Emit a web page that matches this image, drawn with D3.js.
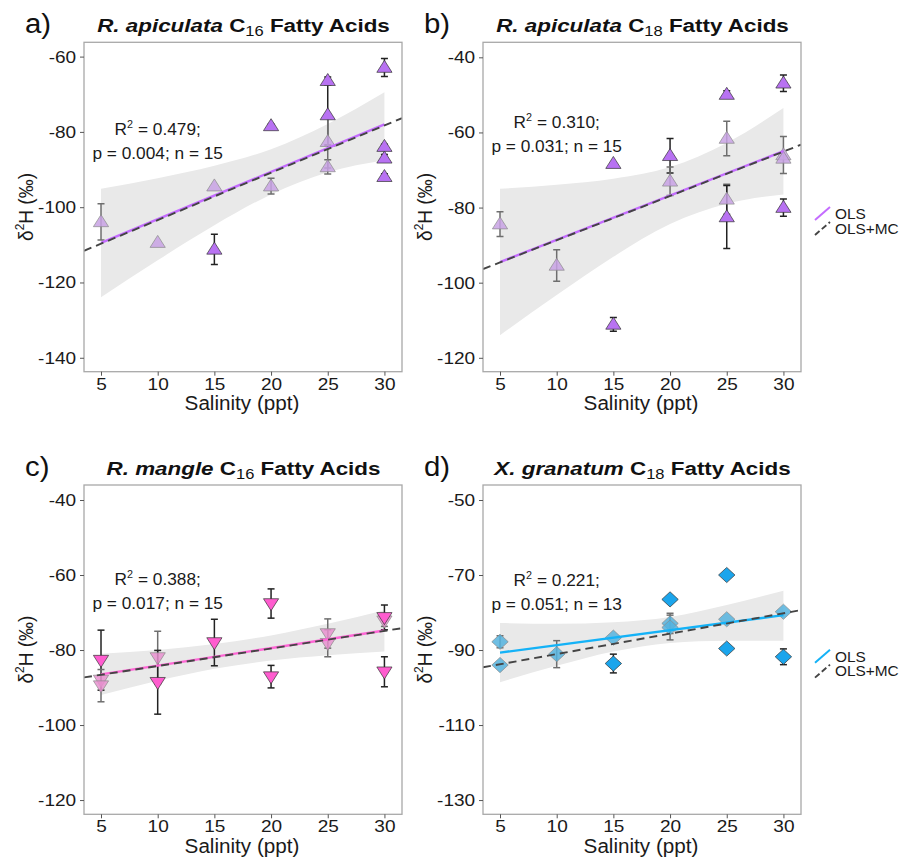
<!DOCTYPE html>
<html>
<head>
<meta charset="utf-8">
<script src="https://cdnjs.cloudflare.com/ajax/libs/d3/7.8.5/d3.min.js"></script>
<style>
  body { margin: 0; background: #fff; }
  svg { display: block; font-family: "Liberation Sans", Arial, sans-serif; }
</style>
</head>
<body>
<svg id="chart" width="901" height="857"></svg>
<script>
// salinity axis shared by all four panels
const salinityTicks = [5, 10, 15, 20, 25, 30]
const salinityDomain = [3.5, 31.55]

// a) R. apiculata C16
const aSal = [5, 10, 15, 15, 20, 20, 25, 25, 25, 25, 30, 30, 30, 30]
const aD2H = [-103.9, -109.4, -94.4, -111.2, -78.4, -94.4, -66.4, -75.5, -82.6, -89.3, -62.9, -83.9, -87.0, -91.9]
const aErr = [4.8, 0, 0, 4.0, 0.4, 2.1, 1.0, 8.0, 7.0, 1.9, 2.4, 0.6, 1.0, 0.8]
const aLight = [1, 1, 1, 0, 0, 1, 0, 0, 1, 1, 0, 0, 0, 0]
const aOls = [-109.5, -78.0]
const aMc = [-109.7, -78.3]
const aBandHi = [-95.1, -92.3, -89.0, -84.6, -77.9, -69.5]
const aBandLo = [-123.9, -114.1, -104.8, -96.6, -90.7, -87.5]
const aYTicks = [-140, -120, -100, -80, -60]
const aYDomain = [-143.7, -56.2]
const aStats = ['0.479', '0.004', '15']

// b) R. apiculata C18
const bSal = [5, 10, 15, 15, 20, 20, 25, 25, 25, 25, 30, 30, 30, 30]
const bD2H = [-84.4, -95.4, -68.3, -111.1, -66.2, -73.0, -49.9, -61.6, -77.8, -82.5, -46.9, -66.0, -66.9, -80.0]
const bErr = [3.3, 4.2, 0, 1.8, 4.6, 3.8, 1.0, 4.6, 4.0, 8.4, 2.2, 4.9, 0, 2.3]
const bLight = [1, 1, 0, 0, 0, 1, 0, 1, 1, 0, 0, 1, 1, 0]
const bOls = [-94.5, -65.0]
const bMc = [-94.6, -65.1]
const bBandHi = [-75.0, -73.9, -72.3, -69.2, -62.8, -53.5]
const bBandLo = [-114.0, -103.3, -93.1, -84.4, -79.0, -76.5]
const bYTicks = [-120, -100, -80, -60, -40]
const bYDomain = [-123.7, -36.0]
const bStats = ['0.310', '0.031', '15']

// c) R. mangle C16
const cSal = [5, 5, 5, 10, 10, 15, 20, 20, 25, 25, 30, 30, 30]
const cD2H = [-82.7, -88.0, -89.5, -82.0, -88.6, -78.0, -67.6, -87.1, -75.6, -78.2, -71.3, -72.2, -85.8]
const cErr = [8.0, 0, 4.3, 7.0, 8.5, 6.2, 3.9, 3.0, 3.9, 3.6, 3.3, 1.5, 4.0]
const cLight = [0, 1, 1, 1, 0, 0, 0, 0, 1, 1, 0, 1, 0]
const cOls = [-86.5, -74.8]
const cMc = [-86.6, -74.9]
const cBandHi = [-81.0, -80.0, -78.4, -76.1, -73.0, -69.4]
const cBandLo = [-92.0, -88.2, -85.0, -82.8, -81.4, -80.4]
const cYTicks = [-120, -100, -80, -60, -40]
const cYDomain = [-123.8, -36.0]
const cStats = ['0.388', '0.017', '15']

// d) X. granatum C18
const dSal = [5, 5, 10, 15, 15, 20, 20, 20, 25, 25, 25, 30, 30]
const dD2H = [-87.8, -94.0, -91.1, -86.7, -93.6, -76.5, -82.9, -84.0, -70.0, -81.8, -89.6, -79.8, -91.8]
const dErr = [1.6, 0, 3.6, 0, 2.5, 0, 2.7, 3.3, 0, 0, 0, 0, 2.1]
const dLight = [1, 1, 1, 1, 0, 0, 1, 1, 0, 1, 0, 1, 0]
const dOls = [-90.7, -80.7]
const dMc = [-93.8, -80.2]
const dBandHi = [-82.8, -83.0, -82.6, -81.2, -78.0, -74.2]
const dBandLo = [-98.6, -94.2, -90.4, -88.1, -87.5, -87.5]
const dYTicks = [-130, -110, -90, -70, -50]
const dYDomain = [-133.8, -46.0]
const dStats = ['0.221', '0.051', '13']

const legendLabels = ['OLS', 'OLS+MC']

// the source figure is a bit wider than tall, so text gets a small horizontal stretch
const STRETCH = 1.12

const svg = d3.select('#chart')

const panels = [
  { label: 'a)', species: 'R. apiculata', carbon: '16', sal: aSal, d2h: aD2H, err: aErr, light: aLight, ols: aOls, mc: aMc, hi: aBandHi, lo: aBandLo, yTicks: aYTicks, yDomain: aYDomain, stats: aStats, annoY: -80.9,
    left: 84, right: 402, top: 42.3, bottom: 371.7, shape: 'up', dark: '#b872f2', pale: '#c8a2e4', line: '#c46cff', legend: false },
  { label: 'b)', species: 'R. apiculata', carbon: '18', sal: bSal, d2h: bD2H, err: bErr, light: bLight, ols: bOls, mc: bMc, hi: bBandHi, lo: bBandLo, yTicks: bYTicks, yDomain: bYDomain, stats: bStats, annoY: -58.9,
    left: 483, right: 801, top: 42.3, bottom: 371.7, shape: 'up', dark: '#b872f2', pale: '#c8a2e4', line: '#c46cff', legend: true },
  { label: 'c)', species: 'R. mangle', carbon: '16', sal: cSal, d2h: cD2H, err: cErr, light: cLight, ols: cOls, mc: cMc, hi: cBandHi, lo: cBandLo, yTicks: cYTicks, yDomain: cYDomain, stats: cStats, annoY: -62.7,
    left: 84, right: 402, top: 485, bottom: 814.3, shape: 'down', dark: '#ff5ccf', pale: '#e891cf', line: '#ff66d6', legend: false },
  { label: 'd)', species: 'X. granatum', carbon: '18', sal: dSal, d2h: dD2H, err: dErr, light: dLight, ols: dOls, mc: dMc, hi: dBandHi, lo: dBandLo, yTicks: dYTicks, yDomain: dYDomain, stats: dStats, annoY: -72.9,
    left: 483, right: 801, top: 485, bottom: 814.3, shape: 'diamond', dark: '#1ba5ec', pale: '#55b3de', line: '#14b2f7', legend: true }
]

function shapePath (shape) {
  if (shape === 'up') return 'M0,-7.2 L7.6,4.8 L-7.6,4.8 Z'
  if (shape === 'down') return 'M0,7.2 L7.6,-4.8 L-7.6,-4.8 Z'
  return 'M0,-7.6 L8.2,0 L0,7.6 L-8.2,0 Z'
}

function stretchText (g, x, y, k) {
  return g.append('text').attr('transform', `translate(${x},${y}) scale(${k || STRETCH},1)`)
}

panels.forEach((p, i) => {
  const x = d3.scaleLinear().domain(salinityDomain).range([p.left, p.right])
  const y = d3.scaleLinear().domain(p.yDomain).range([p.bottom, p.top])
  const g = svg.append('g')
  const clipId = 'clip' + i

  g.append('clipPath').attr('id', clipId)
    .append('rect').attr('x', p.left).attr('y', p.top)
    .attr('width', p.right - p.left).attr('height', p.bottom - p.top)

  const plot = g.append('g').attr('clip-path', `url(#${clipId})`)

  // confidence band
  const band = salinityTicks.map((s, j) => ({ s, lo: p.lo[j], hi: p.hi[j] }))
  plot.append('path')
    .datum(band)
    .attr('fill', '#e9e9e9')
    .attr('d', d3.area().curve(d3.curveMonotoneX)
      .x(d => x(d.s)).y0(d => y(d.lo)).y1(d => y(d.hi)))

  // error bars
  const pts = p.sal.map((s, j) => ({ s, v: p.d2h[j], e: p.err[j], light: p.light[j] }))
  const eb = plot.append('g')
  pts.filter(d => d.e > 0).forEach(d => {
    const col = d.light ? '#6e6e6e' : '#222'
    const bar = eb.append('g').attr('stroke', col).attr('stroke-width', 1.5)
    bar.append('line').attr('x1', x(d.s)).attr('x2', x(d.s)).attr('y1', y(d.v - d.e)).attr('y2', y(d.v + d.e))
    bar.append('line').attr('x1', x(d.s) - 3.5).attr('x2', x(d.s) + 3.5).attr('y1', y(d.v - d.e)).attr('y2', y(d.v - d.e))
    bar.append('line').attr('x1', x(d.s) - 3.5).attr('x2', x(d.s) + 3.5).attr('y1', y(d.v + d.e)).attr('y2', y(d.v + d.e))
  })

  // points, pale ones first
  plot.append('g').selectAll('path')
    .data(pts.slice().sort((a, b) => b.light - a.light))
    .join('path')
    .attr('d', shapePath(p.shape))
    .attr('transform', d => `translate(${x(d.s)},${y(d.v)})`)
    .attr('fill', d => d.light ? p.pale : p.dark)
    .attr('fill-opacity', d => d.light ? 0.85 : 1)
    .attr('stroke', d => d.light ? '#8a8a8a' : '#333')
    .attr('stroke-width', 0.7)

  // OLS fit over the data range
  const olsLine = salinityTicks.filter((s, j) => j === 0 || j === salinityTicks.length - 1)
    .map((s, j) => ({ s, v: p.ols[j] }))
  plot.append('path').datum(olsLine)
    .attr('fill', 'none').attr('stroke', p.line).attr('stroke-width', 2.4)
    .attr('d', d3.line().x(d => x(d.s)).y(d => y(d.v)))

  // OLS+MC fit, extended across the panel
  const slope = (p.mc[1] - p.mc[0]) / 25
  const mcLine = salinityDomain.map(s => ({ s, v: p.mc[0] + slope * (s - 5) }))
  plot.append('path').datum(mcLine)
    .attr('fill', 'none').attr('stroke', '#444').attr('stroke-width', 1.9)
    .attr('stroke-dasharray', '8,5')
    .attr('d', d3.line().x(d => x(d.s)).y(d => y(d.v)))

  // frame
  g.append('rect').attr('x', p.left).attr('y', p.top)
    .attr('width', p.right - p.left).attr('height', p.bottom - p.top)
    .attr('fill', 'none').attr('stroke', '#a8a8a8').attr('stroke-width', 1.3)

  // axes (plain hyphen minus, as in the source)
  const xa = g.append('g').attr('transform', `translate(0,${p.bottom})`)
    .call(d3.axisBottom(x).tickValues(salinityTicks).tickFormat(d => String(d)).tickSize(4).tickPadding(2))
  const ya = g.append('g').attr('transform', `translate(${p.left},0)`)
    .call(d3.axisLeft(y).tickValues(p.yTicks).tickFormat(d => String(d)).tickSize(4).tickPadding(3))
  ;[xa, ya].forEach(a => {
    a.select('.domain').remove()
    a.selectAll('.tick line').attr('stroke', '#555')
    a.selectAll('.tick text')
      .attr('font-size', 17).attr('fill', '#1a1a1a')
      .attr('font-family', '"Liberation Sans", Arial, sans-serif')
      .attr('transform', `scale(${STRETCH},1)`)
  })

  // axis titles
  stretchText(g, (p.left + p.right) / 2 - 1, p.bottom + 38.5, 1.06)
    .attr('text-anchor', 'middle').attr('font-size', 19.5).attr('fill', '#1a1a1a')
    .text('Salinity (ppt)')

  const yl = g.append('text')
    .attr('transform', `translate(${p.left - 51},${(p.top + p.bottom) / 2}) rotate(-90) scale(1,1.1)`)
    .attr('text-anchor', 'middle').attr('font-size', 19).attr('fill', '#1a1a1a')
  yl.append('tspan').text('δ')
  yl.append('tspan').attr('font-size', 12).attr('dy', -8).text('2')
  yl.append('tspan').attr('dy', 8).text('H (‰)')

  // panel title
  const t = stretchText(g, (p.left + p.right) / 2 + 0.5, p.top - 10.5, 1.18)
    .attr('text-anchor', 'middle').attr('font-size', 19).attr('font-weight', 'bold').attr('fill', '#111')
  t.append('tspan').attr('font-style', 'italic').text(p.species + ' ')
  t.append('tspan').text('C')
  t.append('tspan').attr('font-size', 14).attr('font-weight', 'normal').attr('dy', 4).text(p.carbon)
  t.append('tspan').attr('dy', -4).text(' Fatty Acids')

  // panel letter
  stretchText(g, p.left - 59, p.top - 9.5, 1.05)
    .attr('font-size', 28).attr('fill', '#111').text(p.label)

  // fit statistics
  const ax = x(10)
  const ay = y(p.annoY)
  const r2 = stretchText(g, ax, ay, 1.08).attr('text-anchor', 'middle').attr('font-size', 16).attr('fill', '#1a1a1a')
  r2.append('tspan').text('R')
  r2.append('tspan').attr('font-size', 10).attr('dy', -7).text('2')
  r2.append('tspan').attr('dy', 7).text(' = ' + p.stats[0] + ';')
  stretchText(g, ax, ay + 24, 1.08).attr('text-anchor', 'middle').attr('font-size', 16).attr('fill', '#1a1a1a')
    .text('p = ' + p.stats[1] + '; n = ' + p.stats[2])

  // legend
  if (p.legend) {
    const lx = p.right + 14
    const ly = (p.top + p.bottom) / 2 + 6
    const lg = g.append('g')
    lg.append('line').attr('x1', lx).attr('y1', ly + 7).attr('x2', lx + 15).attr('y2', ly - 6)
      .attr('stroke', p.line).attr('stroke-width', 2)
    lg.append('line').attr('x1', lx).attr('y1', ly + 22).attr('x2', lx + 15).attr('y2', ly + 9)
      .attr('stroke', '#444').attr('stroke-width', 1.9).attr('stroke-dasharray', '6,3')
    legendLabels.forEach((name, j) => {
      stretchText(lg, lx + 20, ly + 6 + j * 14.5, 1.1).attr('font-size', 14).attr('fill', '#1a1a1a').text(name)
    })
  }
})
</script>
</body>
</html>
